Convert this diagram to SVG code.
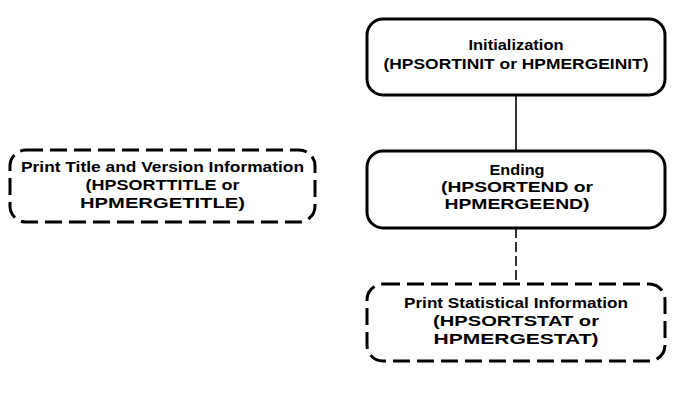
<svg xmlns="http://www.w3.org/2000/svg" width="691" height="401" viewBox="0 0 691 401">
<style>
.box{fill:#fff;stroke:#000;stroke-width:3}
.dash{stroke-dasharray:17 7}
.t{font-family:"Liberation Sans",Arial,sans-serif;font-weight:bold;font-size:15px;fill:#000;text-anchor:middle}
.conn{stroke:#000;stroke-width:1.6;fill:none}
</style>
<rect width="691" height="401" fill="#fff"/>
<g id="connectors">
<line class="conn" x1="516" y1="95" x2="516" y2="150"/>
<line class="conn" x1="516" y1="228" x2="516" y2="284" stroke-dasharray="10 4"/>
</g>
<g id="init">
<rect class="box" x="367" y="19" width="298" height="76" rx="16"/>
<text class="t" x="516" y="50" textLength="95" lengthAdjust="spacingAndGlyphs">Initialization</text>
<text class="t" x="516" y="69" textLength="265" lengthAdjust="spacingAndGlyphs">(HPSORTINIT or HPMERGEINIT)</text>
</g>
<g id="title">
<rect class="box dash" x="10" y="150" width="305" height="72" rx="16"/>
<text class="t" x="162.5" y="172" textLength="283" lengthAdjust="spacingAndGlyphs">Print Title and Version Information</text>
<text class="t" x="162.5" y="190" textLength="154" lengthAdjust="spacingAndGlyphs">(HPSORTTITLE or</text>
<text class="t" x="162.5" y="208" textLength="165" lengthAdjust="spacingAndGlyphs">HPMERGETITLE)</text>
</g>
<g id="ending">
<rect class="box" x="367" y="151" width="298" height="77" rx="16"/>
<text class="t" x="517" y="175" textLength="55" lengthAdjust="spacingAndGlyphs">Ending</text>
<text class="t" x="517" y="192" textLength="152" lengthAdjust="spacingAndGlyphs">(HPSORTEND or</text>
<text class="t" x="517" y="209" textLength="145" lengthAdjust="spacingAndGlyphs">HPMERGEEND)</text>
</g>
<g id="stat">
<rect class="box dash" x="367" y="284" width="298" height="77" rx="16"/>
<text class="t" x="516" y="308" textLength="224" lengthAdjust="spacingAndGlyphs">Print Statistical Information</text>
<text class="t" x="516" y="326" textLength="166" lengthAdjust="spacingAndGlyphs">(HPSORTSTAT or</text>
<text class="t" x="516" y="344" textLength="165" lengthAdjust="spacingAndGlyphs">HPMERGESTAT)</text>
</g>
</svg>
